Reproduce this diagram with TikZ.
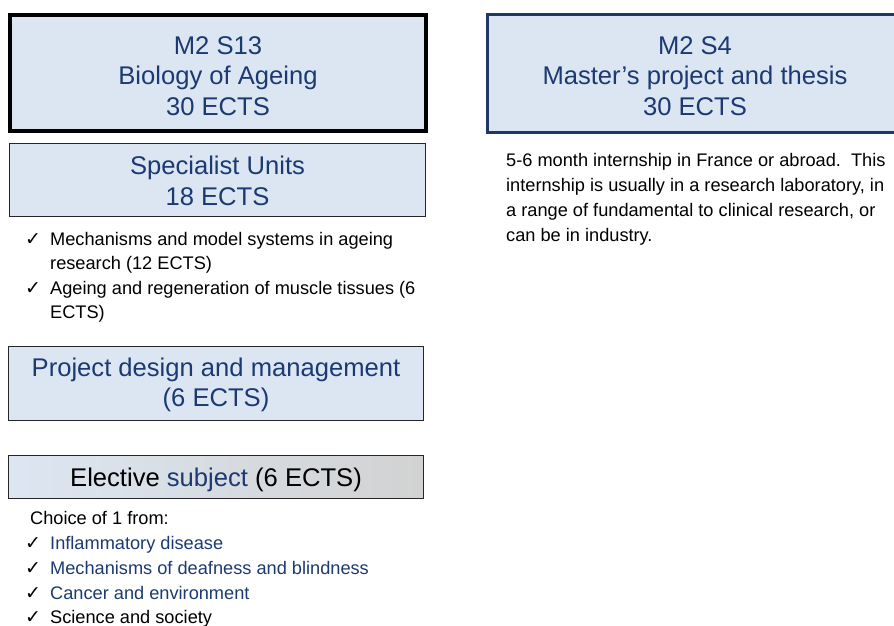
\documentclass[tikz,border=0pt]{standalone}
\usepackage{fontspec}
\usepackage{xcolor}
\setmainfont{Liberation Sans}
\newfontfamily\tickfont{DejaVu Sans}

\definecolor{boxblue}{HTML}{DCE6F2}
\definecolor{inkblue}{HTML}{1B3A72}
\definecolor{framenavy}{HTML}{1F3864}
\definecolor{shadegray}{HTML}{D2D2D2}

\tikzset{
	unitbox/.style={draw=black!85, line width=1.3pt, fill=boxblue, inner sep=0pt},
	boxtext/.style={text=inkblue, align=center, inner sep=0pt, font=\fontsize{25.6}{30.5}\selectfont},
	listline/.style={anchor=base west, inner sep=0pt, font=\fontsize{18.2}{24.5}\selectfont},
	tickmark/.style={anchor=base west, inner sep=0pt, font=\tickfont\fontsize{19}{19}\selectfont}
}

\begin{document}
\begin{tikzpicture}[x=1pt,y=-1pt]
	\useasboundingbox (0,0) rectangle (894,626);
	% semester 3
	\node [unitbox, line width=4pt, draw=black, minimum width=416pt, minimum height=116pt] (s13) at (218,73) {};
	\node [boxtext] (s13txt) at (218,76) {M2 S13\\Biology of Ageing\\30 ECTS};
	\node [unitbox, minimum width=416pt, minimum height=73pt] (spec) at (217.5,180) {};
	\node [boxtext] (spectxt) at (217.5,181) {Specialist Units\\18 ECTS};
	\node [tickmark] (tk1) at (25,245) {✓};
	\node [listline] (sp1a) at (50,245) {Mechanisms and model systems in ageing};
	\node [listline] (sp1b) at (50,269.5) {research (12 ECTS)};
	\node [tickmark] (tk2) at (25,294) {✓};
	\node [listline] (sp2a) at (50,294) {Ageing and regeneration of muscle tissues (6};
	\node [listline] (sp2b) at (50,318.5) {ECTS)};
	\node [unitbox, minimum width=415pt, minimum height=74pt] (proj) at (216,383.5) {};
	\node [boxtext] (projtxt) at (216,385) {Project design and management\\(6 ECTS)};
	% elective
	\node [unitbox, left color=boxblue, right color=shadegray, minimum width=415pt, minimum height=43pt] (elec) at (216,477) {};
	\node [boxtext, text=black] (electxt) at (216,480) {Elective \textcolor{inkblue}{subject} (6 ECTS)};
	\node [listline] (choice) at (30,524) {Choice of 1 from:};
	\node [tickmark] (tk3) at (25,549) {✓};
	\node [listline, text=inkblue] (el1) at (50,549) {Inflammatory disease};
	\node [tickmark] (tk4) at (25,574) {✓};
	\node [listline, text=inkblue] (el2) at (50,574) {Mechanisms of deafness and blindness};
	\node [tickmark] (tk5) at (25,599) {✓};
	\node [listline, text=inkblue] (el3) at (50,599) {Cancer and environment};
	\node [tickmark] (tk6) at (25,623) {✓};
	\node [listline] (el4) at (50,623) {Science and society};
	% semester 4
	\node [unitbox, line width=3pt, draw=framenavy, minimum width=417pt, minimum height=118pt] (s4) at (696,73.5) {};
	\node [boxtext] (s4txt) at (695,76) {M2 S4\\Master’s project and thesis\\30 ECTS};
	\node [listline] (int1) at (506,166) {5-6 month internship in France or abroad.\ \ This};
	\node [listline] (int2) at (506,191) {internship is usually in a research laboratory, in};
	\node [listline] (int3) at (506,216) {a range of fundamental to clinical research, or};
	\node [listline] (int4) at (506,241) {can be in industry.};
\end{tikzpicture}
\end{document}
